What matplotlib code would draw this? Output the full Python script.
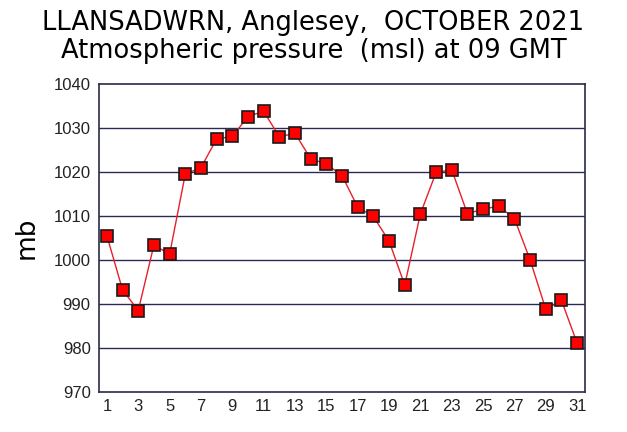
import numpy as np
import matplotlib
matplotlib.use('Agg')
import matplotlib.pyplot as plt

# daily pressure readings, Oct 2021
days = np.arange(1, 32)
pressure = [1005.5, 993.2, 988.5, 1003.4, 1001.3, 1019.5, 1021.0, 1027.5, 1028.1, 1032.6,
            1033.8, 1028.0, 1028.8, 1023.0, 1021.8, 1019.2, 1012.0, 1009.9, 1004.3, 994.3,
            1010.5, 1019.9, 1020.5, 1010.5, 1011.6, 1012.2, 1009.4, 1000.0, 988.8, 990.8,
            981.1]
yticks = np.arange(970, 1041, 10)
xticks = np.arange(1, 32, 2)

fig = plt.figure(figsize=(6.27, 4.32), dpi=100)
ax = fig.add_axes([0.158, 0.0926, 0.775, 0.713])

for yv in yticks[1:-1]:
    ax.axhline(yv, color='#2a2a5a', lw=1.0, zorder=1)

ax.plot(days, pressure, '-', color='#e8202a', lw=1.0, zorder=2)
ax.plot(days, pressure, 's', ms=8.5, mfc='#ff0000', mec='#1a1a1a', mew=1.2, zorder=3)

ax.set_xlim(0.5, 31.5)
ax.set_ylim(970, 1040)
ax.set_yticks(yticks)
ax.set_xticks(xticks)
ax.tick_params(length=0, labelsize=12, colors='#222222')
ax.tick_params(axis='y', pad=6)
ax.tick_params(axis='x', pad=5)
for lab in ax.get_xticklabels() + ax.get_yticklabels():
    lab.set_family('Liberation Sans')
for s in ax.spines.values():
    s.set_color('#2a2a4a')
    s.set_linewidth(1.2)

ax.set_ylabel('mb', fontsize=19, labelpad=10)
fig.text(0.5, 0.93, 'LLANSADWRN, Anglesey,  OCTOBER 2021', ha='center', va='baseline', fontsize=18.5)
fig.text(0.5, 0.865, 'Atmospheric pressure  (msl) at 09 GMT', ha='center', va='baseline', fontsize=18.5)

fig.savefig('out.png', dpi=100)
